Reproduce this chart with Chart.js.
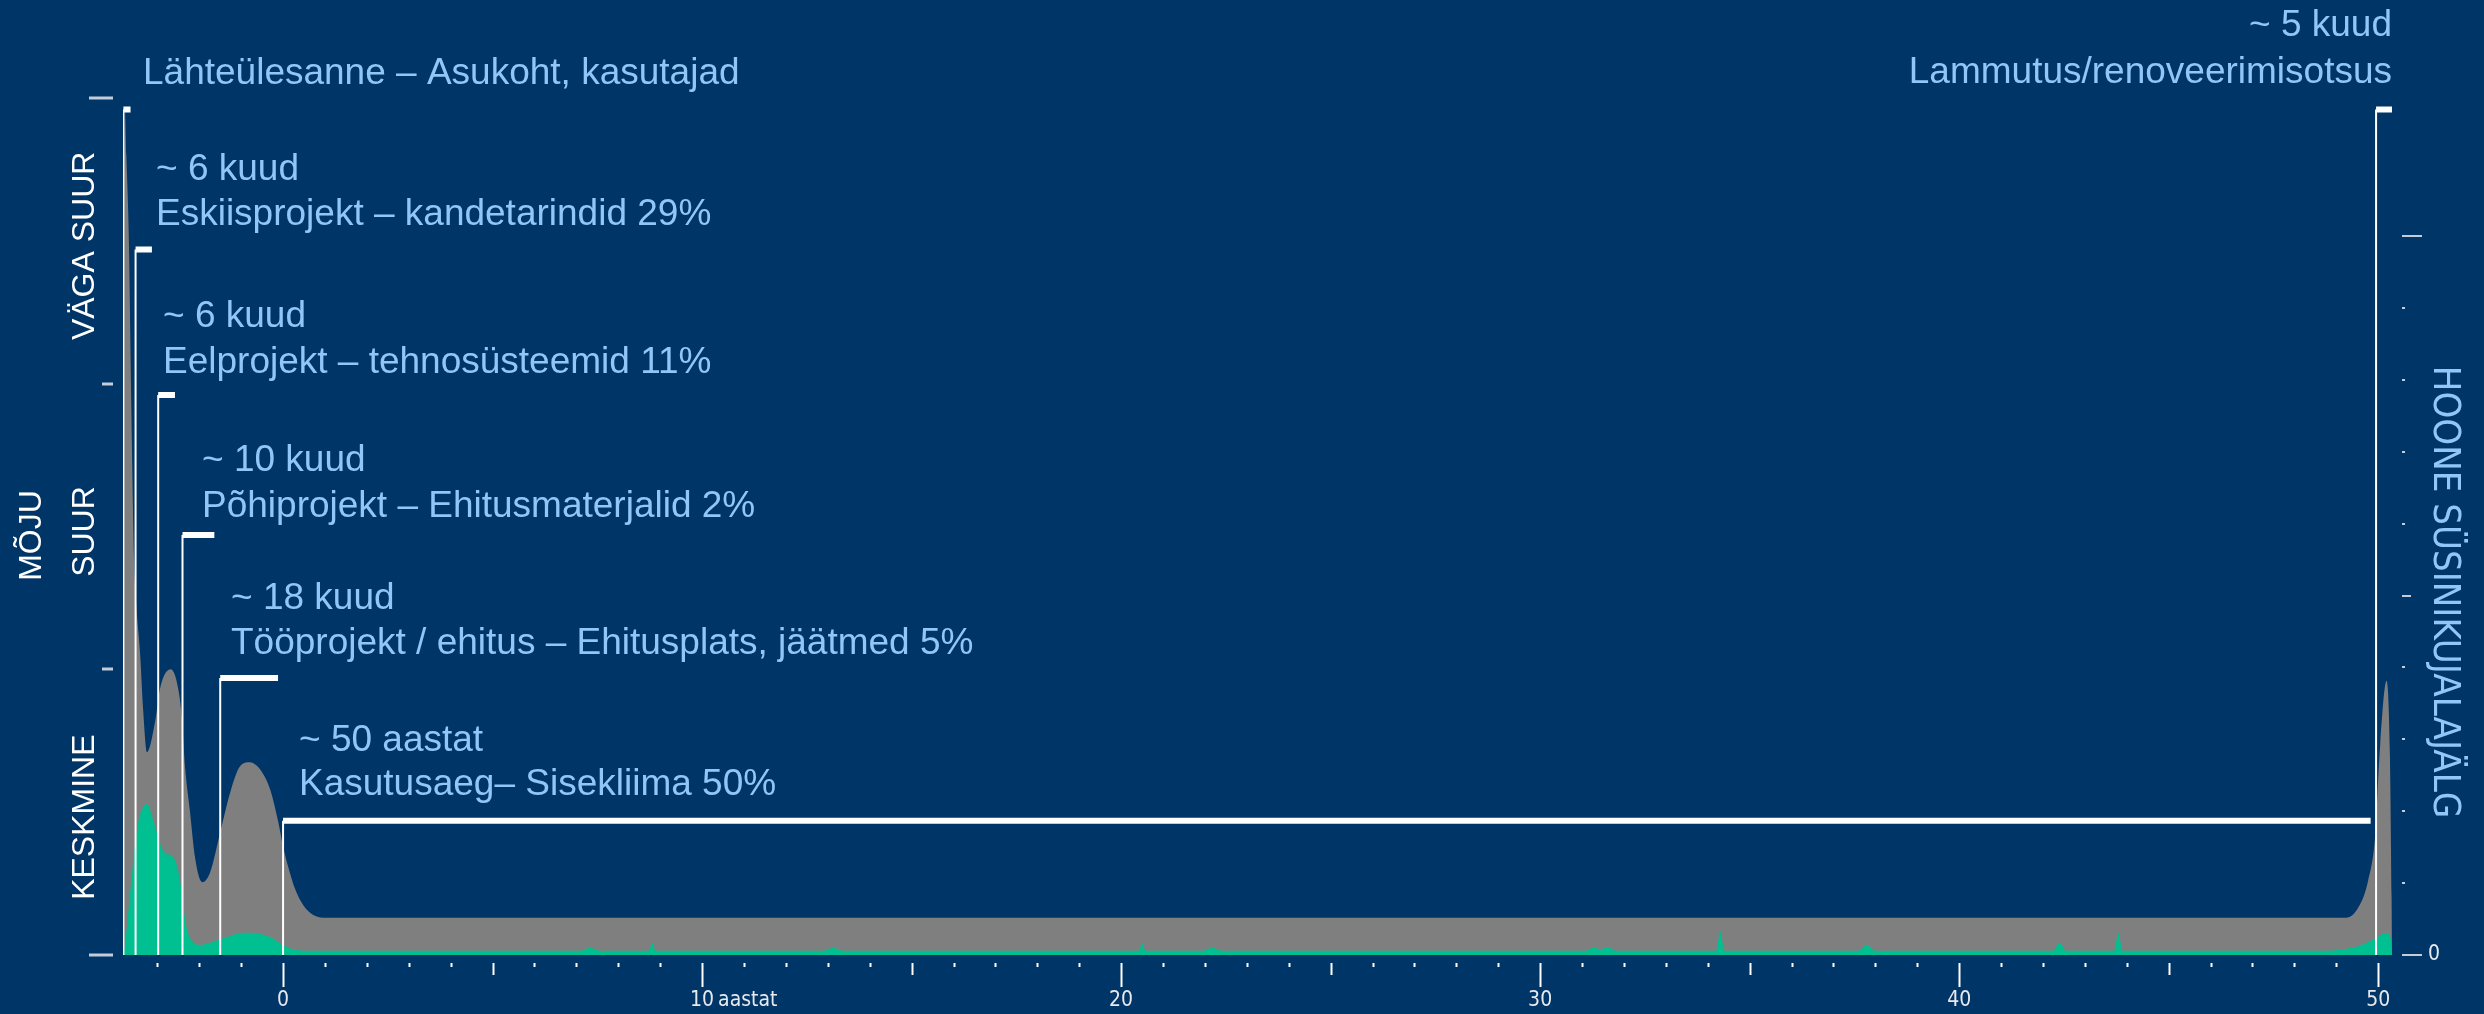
<!DOCTYPE html>
<html>
<head>
<meta charset="utf-8">
<script src="https://cdn.jsdelivr.net/npm/chart.js@4.4.1/dist/chart.umd.min.js"></script>
<style>
  html, body { margin: 0; padding: 0; background: #003567; }
  canvas { display: block; }
</style>
</head>
<body>
<canvas id="chart" width="2484" height="1014"></canvas>
<script>
// time axis in years, 0 = start of use
const grayYears = [-3.80, -3.775, -3.74, -3.68, -3.62, -3.56, -3.50, -3.41, -3.34, -3.25, -3.05, -2.94, -2.68, -2.50, -2.41, -2.34, -2.22, -2.10, -1.93, -1.74, -1.50, -1.26, -1.03, -0.79, -0.55, -0.31, -0.12, 0.00, 0.12, 0.29, 0.48, 0.72, 1.05, 49.20, 49.50, 49.76, 49.93, 50.05, 50.20, 50.28, 50.32, 50.33];
const grayImpact = [2.60, 2.96, 2.80, 2.50, 1.90, 1.40, 1.22, 1.05, 0.86, 0.71, 0.82, 0.93, 1.00, 0.93, 0.82, 0.66, 0.50, 0.34, 0.255, 0.29, 0.43, 0.57, 0.66, 0.675, 0.65, 0.58, 0.47, 0.38, 0.31, 0.23, 0.175, 0.14, 0.13, 0.13, 0.16, 0.26, 0.42, 0.74, 0.96, 0.70, 0.20, 0];

const greenYears = [-3.80, -3.70, -3.58, -3.46, -3.37, -3.25, -3.10, -2.94, -2.82, -2.70, -2.58, -2.46, -2.38, -2.29, -2.15, -1.98, -1.74, -1.34, -0.95, -0.63, -0.31, 0.00, 0.33, 0.72,
  7.10, 7.33, 7.56, 8.73, 8.81, 8.89, 12.90, 13.13, 13.36, 20.42, 20.50, 20.58, 21.95, 22.17, 22.40,
  31.10, 31.30, 31.45, 31.60, 31.80, 34.20, 34.30, 34.40, 37.60, 37.80, 38.00, 42.25, 42.40, 42.55, 43.70, 43.80, 43.90,
  48.60, 49.20, 49.60, 49.90, 50.20, 50.30, 50.33];
const greenCarbon = [0, 0.55, 1.28, 1.83, 2.02, 2.10, 1.88, 1.56, 1.42, 1.39, 1.32, 1.04, 0.67, 0.35, 0.18, 0.14, 0.17, 0.25, 0.31, 0.30, 0.25, 0.14, 0.07, 0.06,
  0.06, 0.10, 0.06, 0.06, 0.17, 0.06, 0.06, 0.10, 0.06, 0.06, 0.155, 0.06, 0.06, 0.10, 0.06,
  0.06, 0.11, 0.07, 0.11, 0.06, 0.06, 0.33, 0.06, 0.06, 0.14, 0.06, 0.06, 0.17, 0.06, 0.06, 0.31, 0.06,
  0.06, 0.08, 0.14, 0.22, 0.31, 0.22, 0];

// project phases: bracket start, end and height (impact scale)
const phaseStart = [-3.81, -3.52, -2.98, -2.40, -1.50, 0.00, 49.95];
const phaseEnd = [-3.64, -3.13, -2.58, -1.64, -0.12, 49.82, 50.33];
const phaseLevel = [2.96, 2.47, 1.96, 1.47, 0.97, 0.47, 2.96];
const phaseDuration = ['', '~ 6 kuud', '~ 6 kuud', '~ 10 kuud', '~ 18 kuud', '~ 50 aastat', '~ 5 kuud'];
const phaseName = ['Lähteülesanne – Asukoht, kasutajad', 'Eskiisprojekt – kandetarindid 29%', 'Eelprojekt – tehnosüsteemid 11%',
  'Põhiprojekt – Ehitusmaterjalid 2%', 'Tööprojekt / ehitus – Ehitusplats, jäätmed 5%', 'Kasutusaeg– Sisekliima 50%',
  'Lammutus/renoveerimisotsus'];

const impactTicks = [0, 1, 2, 3];
const impactBands = ['KESKMINE', 'SUUR', 'VÄGA SUUR'];
const carbonTicks = [0, 1, 2, 3, 4, 5, 6, 7, 8, 9, 10];
const yearLabels = [0, 10, 20, 30, 40, 50];
const yearUnit = 'aastat';

const BLUE_TEXT = '#8fc8f6';
const NARROW = '"Liberation Sans Narrow", "DejaVu Sans Condensed", sans-serif';
const SANS = '"Liberation Sans", Arial, sans-serif';

const toPoints = (xs, ys) => xs.map((x, i) => ({ x, y: ys[i] }));

const verticals = phaseStart.flatMap((s, i) => [{ x: s, y: 0 }, { x: s, y: phaseLevel[i] }, { x: s, y: null }]);
const caps = phaseStart.flatMap((s, i) => [{ x: s, y: phaseLevel[i] }, { x: phaseEnd[i], y: phaseLevel[i] }, { x: phaseEnd[i], y: null }]);

// text blocks next to the brackets
const textBlocks = [
  { x: 143, base: [84], lines: [phaseName[0]] },
  { x: 156, base: [180, 225], lines: [phaseDuration[1], phaseName[1]] },
  { x: 163, base: [327, 373], lines: [phaseDuration[2], phaseName[2]] },
  { x: 202, base: [471, 517], lines: [phaseDuration[3], phaseName[3]] },
  { x: 231, base: [609, 654], lines: [phaseDuration[4], phaseName[4]] },
  { x: 299, base: [751, 795], lines: [phaseDuration[5], phaseName[5]] },
  { x: 2392, base: [36, 83], lines: [phaseDuration[6], phaseName[6]], right: true },
];

const axisMarks = {
  id: 'axisMarks',
  afterDraw(chart) {
    const { ctx, chartArea: a, scales: { x, y, y2 } } = chart;
    ctx.save();

    // left ticks
    ctx.strokeStyle = '#c3ccd8';
    ctx.lineWidth = 3;
    impactTicks.forEach(v => {
      const py = Math.round(y.getPixelForValue(v));
      const len = (v === 0 || v === 3) ? 24 : 11;
      ctx.beginPath();
      ctx.moveTo(a.left - 10 - len, py);
      ctx.lineTo(a.left - 10, py);
      ctx.stroke();
    });

    // right ticks
    ctx.lineWidth = 2;
    carbonTicks.forEach(v => {
      const py = Math.round(y2.getPixelForValue(v));
      const len = v % 10 === 0 ? 20 : (v % 5 === 0 ? 9 : 3);
      ctx.beginPath();
      ctx.moveTo(a.right + 10, py);
      ctx.lineTo(a.right + 10 + len, py);
      ctx.stroke();
    });
    ctx.fillStyle = '#e6e9ee';
    ctx.font = '21px ' + NARROW;
    ctx.textAlign = 'left';
    ctx.textBaseline = 'middle';
    ctx.fillText(String(carbonTicks[0]), a.right + 36, y2.getPixelForValue(0));

    // bottom ticks, every year
    ctx.strokeStyle = '#ffffff';
    for (let t = Math.ceil(x.min); t <= Math.floor(x.max); t++) {
      const px = Math.round(x.getPixelForValue(t)) + 0.5;
      const len = t % 10 === 0 ? 24 : (t % 5 === 0 ? 12 : 4);
      ctx.beginPath();
      ctx.moveTo(px, a.bottom + 8);
      ctx.lineTo(px, a.bottom + 8 + len);
      ctx.stroke();
    }
    ctx.fillStyle = '#e6e9ee';
    ctx.textAlign = 'center';
    yearLabels.forEach(t => {
      const px = x.getPixelForValue(t);
      const s = String(t);
      ctx.fillText(s, px, a.bottom + 46);
      if (t === 10) {
        const w = ctx.measureText(s).width;
        ctx.textAlign = 'left';
        ctx.fillText(yearUnit, px + w / 2 + 4, a.bottom + 46);
        ctx.textAlign = 'center';
      }
    });

    // left band labels + axis title
    ctx.fillStyle = '#ffffff';
    ctx.font = '32px ' + SANS;
    impactBands.forEach((lab, i) => {
      const py = y.getPixelForValue(impactTicks[i] + 0.5) + 5;
      ctx.save();
      ctx.translate(85, py);
      ctx.rotate(-Math.PI / 2);
      ctx.fillText(lab, 0, 0);
      ctx.restore();
    });
    ctx.save();
    ctx.translate(32, y.getPixelForValue(1.5) + 9);
    ctx.rotate(-Math.PI / 2);
    ctx.fillText('MÕJU', 0, 0);
    ctx.restore();

    // right axis title
    ctx.fillStyle = BLUE_TEXT;
    ctx.font = '38px ' + NARROW;
    ctx.save();
    ctx.translate(2444, 592);
    ctx.rotate(Math.PI / 2);
    ctx.fillText('HOONE SÜSINIKUJALAJÄLG', 0, 0);
    ctx.restore();

    // phase texts
    ctx.font = '37px ' + SANS;
    ctx.textBaseline = 'alphabetic';
    textBlocks.forEach(b => {
      ctx.textAlign = b.right ? 'right' : 'left';
      b.lines.forEach((line, i) => ctx.fillText(line, b.x, b.base[i]));
    });

    ctx.restore();
  }
};

new Chart(document.getElementById('chart'), {
  type: 'line',
  data: {
    datasets: [
      { data: caps, yAxisID: 'y', borderColor: '#ffffff', borderWidth: 6, borderCapStyle: 'butt', pointRadius: 0, fill: false, tension: 0, spanGaps: false, order: 1 },
      { data: verticals, yAxisID: 'y', borderColor: '#ffffff', borderWidth: 2, pointRadius: 0, fill: false, tension: 0, spanGaps: false, order: 2 },
      { data: toPoints(greenYears, greenCarbon), yAxisID: 'y2', borderWidth: 0, borderColor: 'rgba(0,0,0,0)', backgroundColor: '#00bf91', fill: 'origin', pointRadius: 0, cubicInterpolationMode: 'monotone', order: 3 },
      { data: toPoints(grayYears, grayImpact), yAxisID: 'y', borderWidth: 0, borderColor: 'rgba(0,0,0,0)', backgroundColor: '#7f7f7f', fill: 'origin', pointRadius: 0, cubicInterpolationMode: 'monotone', order: 4 },
    ]
  },
  options: {
    responsive: false,
    devicePixelRatio: 1,
    animation: false,
    events: [],
    layout: { padding: { left: 123, right: 92, top: 98, bottom: 59 } },
    plugins: { legend: { display: false }, tooltip: { enabled: false } },
    scales: {
      x: { type: 'linear', display: false, min: -3.82, max: 50.33 },
      y: { display: false, min: 0, max: 3 },
      y2: { display: false, min: 0, max: 11.92 }
    }
  },
  plugins: [axisMarks]
});
</script>
</body>
</html>
